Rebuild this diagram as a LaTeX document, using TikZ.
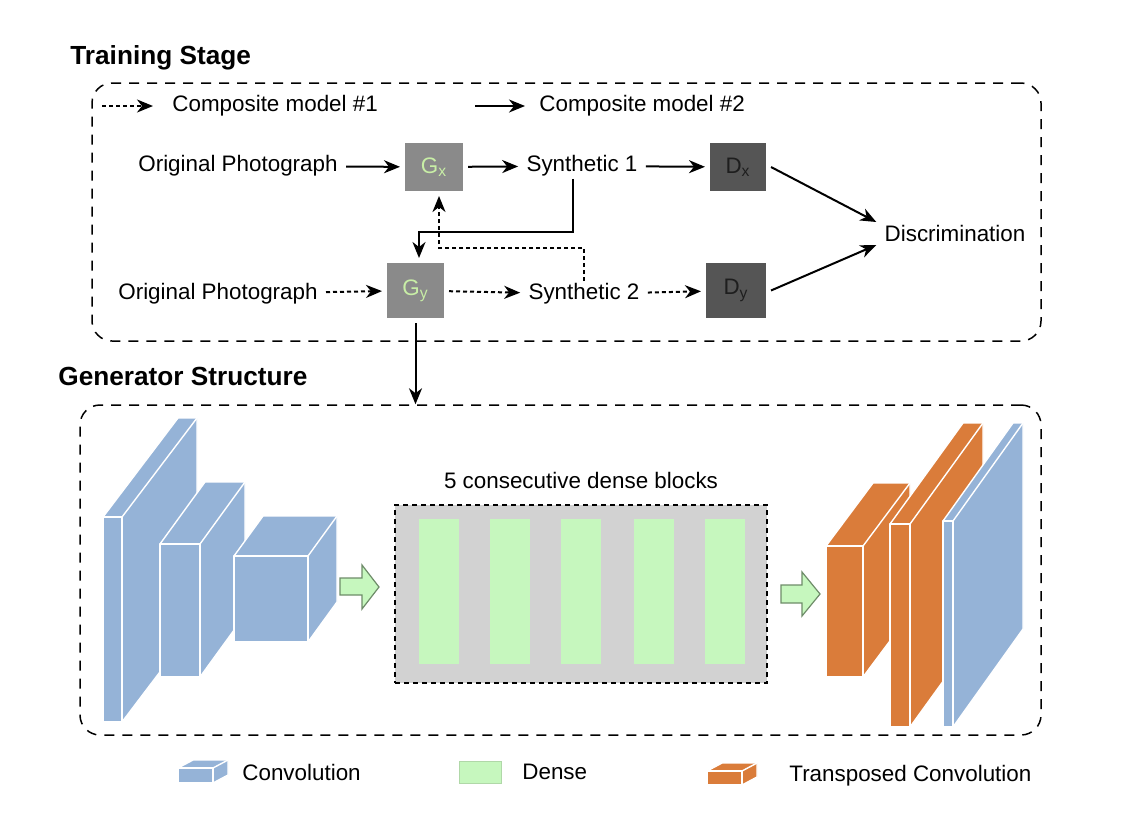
\documentclass[tikz,border=0pt]{standalone}
\usepackage{fontspec}
\setmainfont{Liberation Sans}
\usetikzlibrary{
	positioning,
	arrows.meta,
	fit,
	calc
}
\definecolor{ConvBlue}{RGB}{149,179,215}
\definecolor{DeconvOrange}{RGB}{218,124,58}
\definecolor{DenseGreen}{RGB}{198,247,190}
\definecolor{DenseEdge}{RGB}{176,216,168}
\definecolor{DenseGray}{RGB}{210,210,210}
\definecolor{ArrowEdge}{RGB}{110,140,105}
\definecolor{GenGray}{RGB}{138,138,138}
\definecolor{DiscGray}{RGB}{85,85,85}
\definecolor{LabelGreen}{RGB}{200,238,166}
\definecolor{DiscText}{RGB}{30,30,30}

% #1,#2 front top-left corner, #3 width, #4 height, #5 depth to the right, #6 rise, #7 colour
\newcommand{\layerblock}[7]{%
	\fill[#7] (#1,#2) -- (#1+#5,#2-#6) -- (#1+#3+#5,#2-#6) -- (#1+#3+#5,#2+#4-#6)
		-- (#1+#3,#2+#4) -- (#1,#2+#4) -- cycle;
	\draw[blockedge] (#1,#2) rectangle (#1+#3,#2+#4);
	\draw[blockedge] (#1,#2) -- (#1+#5,#2-#6) -- (#1+#3+#5,#2-#6) -- (#1+#3+#5,#2+#4-#6) -- (#1+#3,#2+#4);
	\draw[blockedge] (#1+#3,#2) -- (#1+#3+#5,#2-#6);
}

\begin{document}
\begin{tikzpicture}[
	x=0.5pt,
	y=-0.5pt,
	every node/.style={
		font=\fontsize{11.2}{13.4}\selectfont
	},
	stagetitle/.style={
		font=\fontsize{13.1}{15.7}\selectfont\bfseries,
		anchor=west,
		inner sep=0pt
	},
	txt/.style={
		inner sep=4pt
	},
	legendtxt/.style={
		anchor=west,
		inner sep=0pt
	},
	genbox/.style={
		fill=GenGray,
		text=LabelGreen,
		minimum width=29pt,
		minimum height=24pt,
		inner sep=0pt,
		outer sep=2.5pt
	},
	discbox/.style={
		fill=DiscGray,
		text=DiscText,
		minimum width=28pt,
		minimum height=24pt,
		inner sep=0pt,
		outer sep=2.5pt
	},
	flow/.style={
		-{Stealth[length=8pt,width=6.5pt,inset=2.5pt]},
		line width=1pt
	},
	dotflow/.style={
		flow,
		dash pattern=on 2pt off 1.5pt
	},
	groupbox/.style={
		draw,
		line width=0.75pt,
		dash pattern=on 5pt off 4pt,
		rounded corners=10pt,
		inner sep=0pt
	},
	denseframe/.style={
		draw,
		fill=DenseGray,
		line width=0.6pt,
		dash pattern=on 2.5pt off 2pt,
		inner sep=0pt
	},
	denseblock/.style={
		fill=DenseGreen,
		minimum width=20pt,
		minimum height=72.5pt,
		inner sep=0pt
	},
	bigarrow/.style={
		fill=DenseGreen,
		draw=ArrowEdge,
		line width=0.6pt
	},
	blockedge/.style={
		draw=white,
		line width=0.7pt,
		line join=round
	}
	]
	
	\useasboundingbox (0,0) rectangle (1133,820);
	
	% training stage
	\node[stagetitle] (traintitle) at (70,58) {Training Stage};
	\node[groupbox, fit={(92,83) (1041,341)}] (trainframe) {};
	
	\coordinate (leg1a) at (102,106);
	\coordinate (leg1b) at (153,106);
	\draw[dotflow] (leg1a) -- (leg1b);
	\node[legendtxt] (comp1) at (172,106) {Composite model \#1};
	
	\coordinate (leg2a) at (475,106);
	\coordinate (leg2b) at (525,106);
	\draw[flow] (leg2a) -- (leg2b);
	\node[legendtxt] (comp2) at (539,106) {Composite model \#2};
	
	\node[txt, anchor=east] (orig1) at (346,166) {Original Photograph};
	\node[genbox] (gx) at (434,167) {G\textsubscript{x}};
	\node[txt] (syn1) at (582,166) {Synthetic 1};
	\node[discbox] (dx) at (738,167) {D\textsubscript{x}};
	
	\node[txt, anchor=east] (orig2) at (326,294) {Original Photograph};
	\node[genbox, minimum width=28.5pt, minimum height=27.5pt] (gy) at (415.5,290.5) {G\textsubscript{y}};
	\node[txt] (syn2) at (584,294) {Synthetic 2};
	\node[discbox, minimum width=30pt, minimum height=27.5pt] (dy) at (736,290.5) {D\textsubscript{y}};
	
	\node[txt] (disc) at (955,233) {Discrimination};
	
	\draw[flow] (orig1) -- (gx);
	\draw[flow] (gx) -- (syn1);
	\draw[flow] (syn1) -- (dx);
	\draw[dotflow] (orig2) -- (gy);
	\draw[dotflow] (gy) -- (syn2);
	\draw[dotflow] (syn2) -- (dy);
	\draw[flow] (dx.east) -- ([yshift=5.5pt]disc.west);
	\draw[flow] (dy.east) -- ([yshift=-6pt]disc.west);
	
	\coordinate (turn1) at (419,232);
	\coordinate (turn2) at (439,248);
	\draw[flow] ([xshift=-4.5pt,yshift=3pt]syn1.south) |- (turn1) -- (gy.north -| turn1);
	\draw[dotflow] ([yshift=-3pt]syn2.north) |- (turn2) -- (gx.south -| turn2);
	
	% generator structure
	\node[stagetitle] (gentitle) at (58,376) {Generator Structure};
	\node[groupbox, fit={(80,405) (1041,735)}] (genframe) {};
	\draw[flow] (gy.south) -- (gy.south |- genframe.north);
	
	\layerblock{103}{517}{19}{205}{75}{99}{ConvBlue}
	\layerblock{160}{544}{40}{133}{45}{62}{ConvBlue}
	\layerblock{234}{556}{74}{86}{29}{40}{ConvBlue}
	
	\draw[bigarrow] (340,578) -- (362,578) -- (362,565) -- (379,587) -- (362,609) -- (362,595) -- (340,595) -- cycle;
	
	\node[denseframe, fit={(395,505) (767,683)}] (dframe) {};
	\node[txt, above=3.5pt of dframe] (dlabel) {5 consecutive dense blocks};
	\node[denseblock] (db1) at (439,591.5) {};
	\node[denseblock] (db2) at (510,591.5) {};
	\node[denseblock] (db3) at (581,591.5) {};
	\node[denseblock] (db4) at (654,591.5) {};
	\node[denseblock] (db5) at (725,591.5) {};
	
	\draw[bigarrow] (781,585) -- (802,585) -- (802,572) -- (820,594) -- (802,616) -- (802,603) -- (781,603) -- cycle;
	
	\layerblock{826}{546}{37}{131}{47}{63}{DeconvOrange}
	\layerblock{890}{524}{20}{203}{73}{101}{DeconvOrange}
	\layerblock{943}{521}{10}{206}{70}{98}{ConvBlue}
	
	% legend
	\layerblock{178}{768}{35}{15}{15}{8}{ConvBlue}
	\node[legendtxt] (legconv) at (242,772) {Convolution};
	\node[fill=DenseGreen, draw=DenseEdge, line width=0.5pt, minimum width=21pt, minimum height=11pt, inner sep=0pt] (legdense) at (480,772) {};
	\node[legendtxt] (legdensetxt) at (522,772) {Dense};
	\layerblock{707}{771}{35}{14}{15}{8}{DeconvOrange}
	\node[legendtxt] (legdeconv) at (789,776) {Transposed Convolution};
	
\end{tikzpicture}
\end{document}
